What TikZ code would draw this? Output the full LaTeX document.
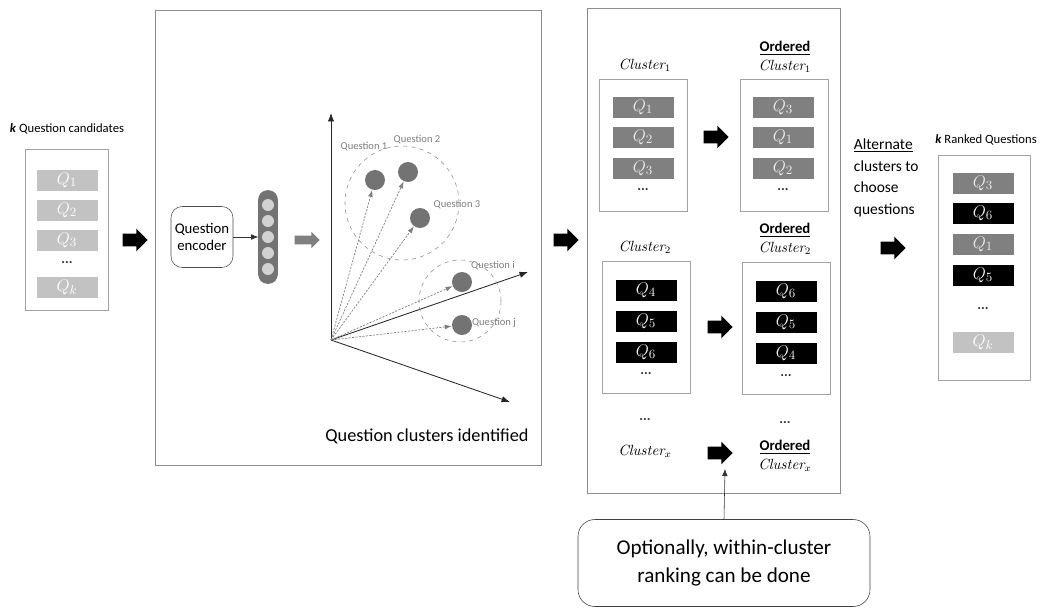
\documentclass[tikz,border=0pt]{standalone}
\usepackage{fontspec}
\setmainfont{Carlito}
\newfontfamily\clusterfont{Latin Modern Roman}
\usetikzlibrary{positioning,shapes.arrows,arrows.meta}
\newcommand\pxu{0.025cm}
\newcommand\cname[1]{{\clusterfont\itshape Cluster}$_{#1}$}
\definecolor{qlight}{gray}{0.76}
\definecolor{qmid}{gray}{0.5}
\definecolor{framegray}{gray}{0.55}
\definecolor{dotgray}{gray}{0.45}
\definecolor{labgray}{gray}{0.5}
\begin{document}
\begin{tikzpicture}[x=\pxu,y=-\pxu,
    frame/.style={draw=framegray,line width=0.7pt},
    listbox/.style={draw=framegray!80,line width=0.6pt,minimum width=88*\pxu,minimum height=132*\pxu,inner sep=0pt},
    qbox/.style={minimum width=61*\pxu,minimum height=21*\pxu,inner sep=0pt,font=\fontsize{13}{13}\selectfont},
    qa/.style={qbox,fill=qlight,text=white},
    qb/.style={qbox,fill=qmid,text=gray!15},
    qc/.style={qbox,fill=black,text=gray!10},
    ldots/.style={font=\fontsize{10}{10}\selectfont\bfseries,text=black!80},
    bigarrow/.style={single arrow,fill=black,inner xsep=0pt,inner ysep=6*\pxu,minimum height=25*\pxu,single arrow head extend=5*\pxu},
    vecdot/.style={circle,fill=dotgray,minimum size=20*\pxu,inner sep=0pt},
    qlabel/.style={text=labgray,font=\fontsize{7.5}{8}\selectfont,inner sep=1pt},
    clabel/.style={font=\fontsize{10.5}{13}\selectfont,align=center,inner sep=0pt},
    axis/.style={black!85,line width=0.6pt,-{Latex[length=6pt,width=4.5pt]}},
    proj/.style={labgray,dash pattern=on 1.5pt off 1pt,line width=0.5pt,-{Latex[length=5pt,width=3.5pt]}}
  ]
  \useasboundingbox (0,0) rectangle (1042,607);

  % candidates
  \node[font=\fontsize{9}{9}\selectfont] (candtitle) at (67,129) {\textit{\textbf{k}} Question candidates};
  \node[listbox,minimum width=83*\pxu,minimum height=161*\pxu] (cands) at (66.5,229.5) {};
  \foreach \i/\y in {1/180,2/210,3/240}
    \node[qa] (c\i) at (67,\y) {$Q_\i$};
  \node[ldots] (cdots) at (67,263) {...};
  \node[qa] (ck) at (67,287) {$Q_k$};
  \node[bigarrow] (a1) at (132,240) {};

  % encoder and vector space
  \draw[frame] (155,10) rectangle (541,465);
  \node[draw=black!70,rounded corners=8pt,minimum width=62*\pxu,minimum height=61*\pxu,align=center,font=\fontsize{10.5}{12.5}\selectfont,inner sep=1pt] (enc) at (202,237) {Question\\encoder};
  \node[draw=black!55,fill=black!55,rounded corners=9*\pxu,minimum width=19*\pxu,minimum height=93*\pxu,inner sep=0pt] (vec) at (268,237) {};
  \foreach \y in {205,221,237,253,269}
    \node[circle,fill=gray!35,minimum size=12*\pxu,inner sep=0pt] at (268,\y) {};
  \draw[-{Latex[length=5pt,width=4pt]},black!80] (enc) -- (vec);
  \node[single arrow,fill=qmid,inner xsep=0pt,inner ysep=4*\pxu,minimum height=25*\pxu,single arrow head extend=4*\pxu] (a2) at (305,240) {};

  \coordinate (o) at (331,340);
  \coordinate (ax1) at (331,113);
  \coordinate (ax2) at (528,272);
  \coordinate (ax3) at (510,402);
  \draw[axis] (o) -- (ax1);
  \draw[axis] (o) -- (ax2);
  \draw[axis] (o) -- (ax3);

  \draw[framegray,dashed] (402,203) circle[radius=57*\pxu];
  \draw[framegray,dashed] (460,301) circle[radius=41*\pxu];

  \node[vecdot] (v1) at (375,180) {};
  \node[vecdot] (v2) at (408,172) {};
  \node[vecdot] (v3) at (420,218) {};
  \node[vecdot] (vi) at (462,282) {};
  \node[vecdot] (vj) at (462,325) {};
  \foreach \v in {v1,v2,v3,vi,vj}
    \draw[proj] (o) -- (\v);

  \node[qlabel] (l1) at (364,147) {Question 1};
  \node[qlabel] (l2) at (417,140) {Question 2};
  \node[qlabel] (l3) at (457,205) {Question 3};
  \node[qlabel] (li) at (493,266) {Question i};
  \node[qlabel] (lj) at (494,323) {Question j};

  \node[font=\fontsize{13}{15}\selectfont] (found) at (427,436) {Question clusters identified};
  \node[bigarrow] (a3) at (563,240) {};

  % clusters
  \draw[frame] (587,8) rectangle (840,493);
  \node[clabel] (t1) at (645,65) {\cname{1}};
  \node[clabel] (o1) at (785,57) {\underline{\textbf{Ordered}}\\\cname{1}};
  \node[listbox] (cl1) at (643,145) {};
  \node[listbox] (ocl1) at (784,145) {};
  \foreach \i/\j/\y in {1/3/107,2/1/137,3/2/168} {
    \node[qb] (p\i) at (643,\y) {$Q_\i$};
    \node[qb] (r\j) at (783,\y) {$Q_\j$};
  }
  \node[ldots] at (643,190) {...};
  \node[ldots] at (783,190) {...};
  \node[bigarrow] (a4) at (713,137) {};

  \node[clabel] (t2) at (645,247) {\cname{2}};
  \node[clabel] (o2) at (785,239) {\underline{\textbf{Ordered}}\\\cname{2}};
  \node[listbox] (cl2) at (646,327) {};
  \node[listbox] (ocl2) at (786,328) {};
  \foreach \i/\j/\y in {4/6/290,5/5/321,6/4/352} {
    \node[qc] (p\i) at (646,\y) {$Q_\i$};
    \node[qc] (r\j) at (786,\y+1) {$Q_\j$};
  }
  \node[ldots] at (646,374) {...};
  \node[ldots] at (786,376) {...};
  \node[bigarrow] (a5) at (717,327) {};

  \node[ldots] at (645,420) {...};
  \node[ldots] at (785,423) {...};
  \node[clabel] (tx) at (645,451) {\cname{x}};
  \node[clabel] (ox) at (785,456) {\underline{\textbf{Ordered}}\\\cname{x}};
  \node[bigarrow] (a6) at (717,453) {};

  \node[draw=black!75,rounded corners=12pt,minimum width=292*\pxu,minimum height=87*\pxu,align=center,font=\fontsize{15}{20}\selectfont] (note) at (724,563) {Optionally, within-cluster\\ranking can be done};
  \coordinate (tip) at (725,469);
  \draw[black!80,-{Latex[length=5pt,width=4pt]}] (note.north) -- (tip);

  % ranked output
  \node[align=left,anchor=west,font=\fontsize{11}{15.4}\selectfont] (alt) at (849,178) {\underline{Alternate}\\clusters to\\choose\\questions};
  \node[bigarrow] (a7) at (890,248) {};
  \node[font=\fontsize{9}{9}\selectfont] (ranktitle) at (986,140) {\textit{\textbf{k}} Ranked Questions};
  \node[listbox,minimum width=92*\pxu,minimum height=225*\pxu] (ranked) at (984,267.5) {};
  \node[qb] (k1) at (983,183) {$Q_3$};
  \node[qc] (k2) at (983,213) {$Q_6$};
  \node[qb] (k3) at (983,244) {$Q_1$};
  \node[qc] (k4) at (983,275) {$Q_5$};
  \node[ldots] (kdots) at (983,309) {...};
  \node[qa] (k5) at (983,342) {$Q_k$};
\end{tikzpicture}
\end{document}
